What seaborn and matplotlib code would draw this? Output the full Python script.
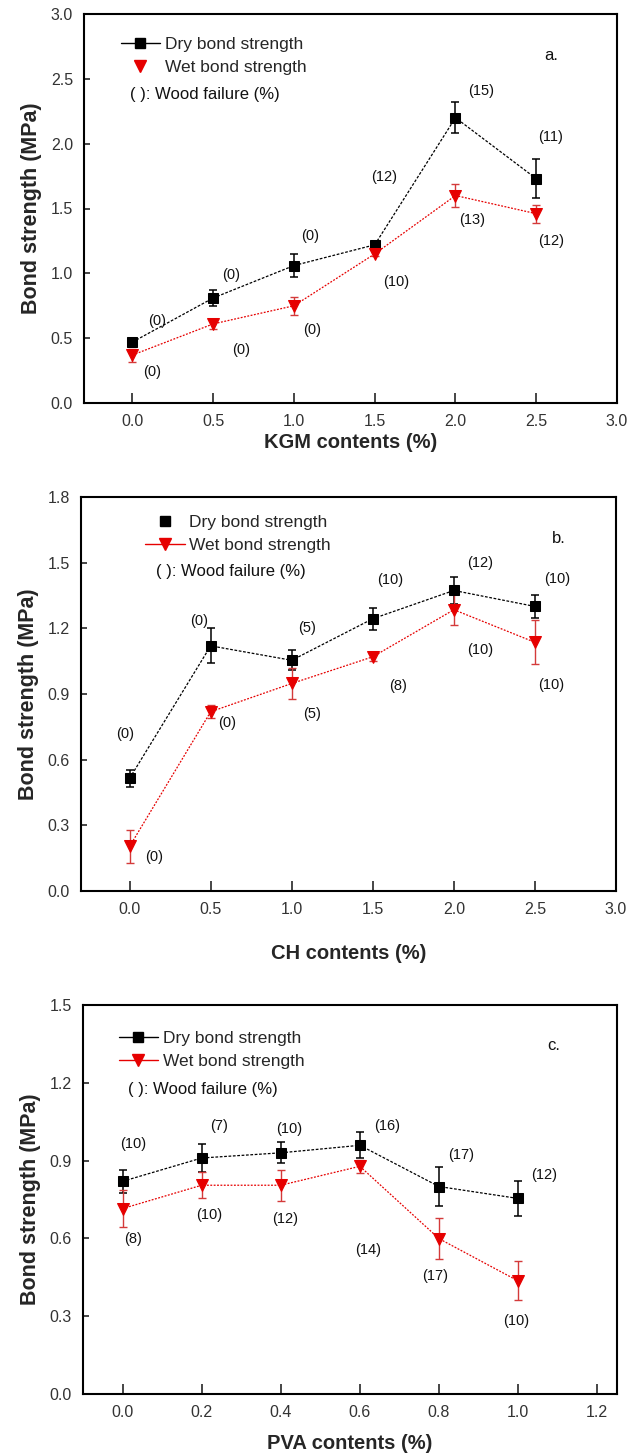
import matplotlib
matplotlib.use("Agg")
import matplotlib.pyplot as plt
import seaborn as sns
import numpy as np
from matplotlib.lines import Line2D

# ---------------- data ----------------
# Panel a: KGM
kgm_x = [0.0, 0.5, 1.0, 1.5, 2.0, 2.5]
kgm_dry = [0.47, 0.81, 1.06, 1.22, 2.20, 1.73]
kgm_dry_err = [0.03, 0.06, 0.09, 0.02, 0.12, 0.15]
kgm_wet = [0.37, 0.61, 0.75, 1.15, 1.60, 1.46]
kgm_wet_err = [0.05, 0.04, 0.07, 0.02, 0.09, 0.07]
kgm_dry_wf = ["(0)", "(0)", "(0)", "(12)", "(15)", "(11)"]
kgm_wet_wf = ["(0)", "(0)", "(0)", "(10)", "(13)", "(12)"]

# Panel b: CH
ch_x = [0.0, 0.5, 1.0, 1.5, 2.0, 2.5]
ch_dry = [0.515, 1.12, 1.054, 1.244, 1.373, 1.30]
ch_dry_err = [0.04, 0.08, 0.045, 0.05, 0.06, 0.053]
ch_wet = [0.204, 0.819, 0.948, 1.07, 1.285, 1.136]
ch_wet_err = [0.075, 0.03, 0.07, 0.02, 0.07, 0.10]
ch_dry_wf = ["(0)", "(0)", "(5)", "(10)", "(12)", "(10)"]
ch_wet_wf = ["(0)", "(0)", "(5)", "(8)", "(10)", "(10)"]

# Panel c: PVA
pva_x = [0.0, 0.2, 0.4, 0.6, 0.8, 1.0]
pva_dry = [0.82, 0.91, 0.93, 0.959, 0.80, 0.754]
pva_dry_err = [0.045, 0.055, 0.04, 0.05, 0.075, 0.067]
pva_wet = [0.715, 0.805, 0.805, 0.878, 0.599, 0.436]
pva_wet_err = [0.07, 0.05, 0.06, 0.025, 0.08, 0.075]
pva_dry_wf = ["(10)", "(7)", "(10)", "(16)", "(17)", "(12)"]
pva_wet_wf = ["(8)", "(10)", "(12)", "(14)", "(17)", "(10)"]

x_labels = ["KGM contents (%)", "CH contents (%)", "PVA contents (%)"]
panel_tags = ["a.", "b.", "c."]
legend_dry = "Dry bond strength"
legend_wet = "Wet bond strength"
wf_note = "( ): Wood failure (%)"
y_label = "Bond strength (MPa)"

# ---------------- layout ----------------
kgm_dry_pos = [(0.15, 0.63), (0.61, 0.99), (1.10, 1.29), (1.56, 1.74), (2.16, 2.41), (2.59, 2.05)]
kgm_wet_pos = [(0.12, 0.24), (0.67, 0.41), (1.11, 0.56), (1.63, 0.93), (2.10, 1.41), (2.59, 1.25)]
ch_dry_pos = [(-0.03, 0.716), (0.43, 1.232), (1.095, 1.20), (1.605, 1.419), (2.16, 1.50), (2.64, 1.425)]
ch_wet_pos = [(0.15, 0.154), (0.60, 0.769), (1.125, 0.807), (1.655, 0.936), (2.16, 1.10), (2.60, 0.943)]
pva_dry_pos = [(0.027, 0.965), (0.245, 1.032), (0.42, 1.023), (0.67, 1.032), (0.856, 0.923), (1.066, 0.846)]
pva_wet_pos = [(0.027, 0.599), (0.22, 0.69), (0.41, 0.673), (0.62, 0.555), (0.79, 0.455), (0.996, 0.282)]

sns.set_style("ticks")
plt.rcParams["font.family"] = ["Liberation Sans", "DejaVu Sans"]

W, H = 630, 1456
fig = plt.figure(figsize=(W / 100, H / 100), dpi=100)

def rect(l, r, t, b):
    return [l / W, 1 - b / H, (r - l) / W, (b - t) / H]

axes = [
    fig.add_axes(rect(84, 617, 14, 403)),
    fig.add_axes(rect(81, 616, 497, 891)),
    fig.add_axes(rect(83, 617, 1005, 1394)),
]

RED = "#e60000"
RED_ERR = "#d43a3a"
LS_DRY = (0, (2.2, 1.3))
LS_WET = (0, (1.5, 1.2))

panels = [
    dict(x=kgm_x, dry=kgm_dry, de=kgm_dry_err, wet=kgm_wet, we=kgm_wet_err,
         dwf=kgm_dry_wf, wwf=kgm_wet_wf, dpos=kgm_dry_pos, wpos=kgm_wet_pos,
         xlim=(-0.3, 3.0), xticks=np.arange(0, 3.01, 0.5),
         ylim=(0, 3.0), yticks=np.arange(0, 3.01, 0.5),
         tag_pos=(2.59, 2.68), labelpad=3,
         leg_dry_line=True, leg_wet_line=False,
         leg_anchor=(0.0685, 0.940), note_pos=(0.087, 0.792)),
    dict(x=ch_x, dry=ch_dry, de=ch_dry_err, wet=ch_wet, we=ch_wet_err,
         dwf=ch_dry_wf, wwf=ch_wet_wf, dpos=ch_dry_pos, wpos=ch_wet_pos,
         xlim=(-0.3, 3.0), xticks=np.arange(0, 3.01, 0.5),
         ylim=(0, 1.8), yticks=np.arange(0, 1.81, 0.3),
         tag_pos=(2.65, 1.612), labelpad=19,
         leg_dry_line=False, leg_wet_line=True,
         leg_anchor=(0.119, 0.954), note_pos=(0.141, 0.812)),
    dict(x=pva_x, dry=pva_dry, de=pva_dry_err, wet=pva_wet, we=pva_wet_err,
         dwf=pva_dry_wf, wwf=pva_wet_wf, dpos=pva_dry_pos, wpos=pva_wet_pos,
         xlim=(-0.1, 1.25), xticks=np.arange(0, 1.21, 0.2),
         ylim=(0, 1.5), yticks=np.arange(0, 1.51, 0.3),
         tag_pos=(1.09, 1.342), labelpad=10,
         leg_dry_line=True, leg_wet_line=True,
         leg_anchor=(0.0665, 0.933), note_pos=(0.085, 0.784)),
]

for i, (ax, p) in enumerate(zip(axes, panels)):
    # lines + markers through seaborn
    sns.lineplot(x=p["x"], y=p["dry"], ax=ax, color="black", linestyle=LS_DRY,
                 linewidth=0.9, marker="s", markersize=7, markeredgecolor="black",
                 markerfacecolor="black", sort=False, errorbar=None, zorder=4)
    sns.lineplot(x=p["x"], y=p["wet"], ax=ax, color=RED, linestyle=LS_WET,
                 linewidth=0.9, marker="v", markersize=8.5, markeredgecolor=RED,
                 markerfacecolor=RED, sort=False, errorbar=None, zorder=4)
    ax.errorbar(p["x"], p["dry"], yerr=p["de"], fmt="none", ecolor="black",
                elinewidth=1.1, capsize=3, capthick=1.1, zorder=3)
    ax.errorbar(p["x"], p["wet"], yerr=p["we"], fmt="none", ecolor=RED_ERR,
                elinewidth=1.0, capsize=3, capthick=1.0, zorder=3)

    for t, (tx, ty) in zip(p["dwf"], p["dpos"]):
        ax.text(tx, ty, t, ha="center", va="center", fontsize=10.5, color="#111")
    for t, (tx, ty) in zip(p["wwf"], p["wpos"]):
        ax.text(tx, ty, t, ha="center", va="center", fontsize=10.5, color="#111")

    ax.text(p["tag_pos"][0], p["tag_pos"][1], panel_tags[i], ha="center",
            va="center", fontsize=12, color="#111")

    ax.set_xlim(*p["xlim"])
    ax.set_ylim(*p["ylim"])
    ax.set_xticks(p["xticks"])
    ax.set_yticks(p["yticks"])
    ax.set_xticklabels([f"{v:.1f}" for v in p["xticks"]])
    ax.set_yticklabels([f"{v:.1f}" for v in p["yticks"]])
    ax.tick_params(axis="x", direction="in", length=7, width=1.2, pad=8,
                   labelsize=11.5, labelcolor="#333", top=False)
    ax.tick_params(axis="y", direction="in", length=4, width=1.2, pad=8,
                   labelsize=11.5, labelcolor="#333", right=False)
    for s in ax.spines.values():
        s.set_visible(True)
        s.set_linewidth(1.5)
        s.set_color("black")

    ax.set_xlabel(x_labels[i], fontsize=14.5, fontweight="bold",
                  labelpad=p["labelpad"])
    ax.set_ylabel(y_label, fontsize=15.5, fontweight="bold", labelpad=6)

    h_dry = Line2D([], [], color="black", linestyle="-" if p["leg_dry_line"] else "none",
                   linewidth=1.0, marker="s", markersize=7)
    h_wet = Line2D([], [], color=RED, linestyle="-" if p["leg_wet_line"] else "none",
                   linewidth=1.0, marker="v", markersize=8.5)
    ax.legend([h_dry, h_wet], [legend_dry, legend_wet], loc="upper left",
              bbox_to_anchor=p["leg_anchor"], frameon=False, fontsize=12.5,
              handlelength=2.3, handletextpad=0.25, labelspacing=0.42,
              borderpad=0, borderaxespad=0)
    ax.text(p["note_pos"][0], p["note_pos"][1], wf_note, transform=ax.transAxes,
            ha="left", va="center", fontsize=12, color="#111")

fig.savefig("out.png", dpi=100)
